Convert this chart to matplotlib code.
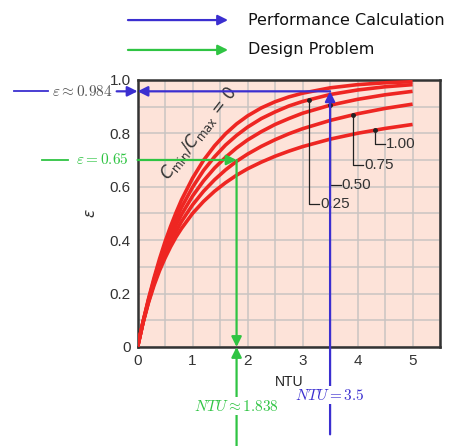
import numpy as np
import matplotlib
matplotlib.use('Agg')
import matplotlib.pyplot as plt

plt.rcParams.update({'font.family':['Liberation Sans','DejaVu Sans'],'font.size':11})
RED,BLUE,GREEN,BG='#ee2622','#3b2fd0','#2fc443','#fde3d9'

# effectiveness curves (Cmin/Cmax = 0, 0.25, 0.50, 0.75, 1.00)
NTU=[0,0.1,0.2,0.3,0.4,0.5,0.6,0.7,0.8,1.0,1.2,1.4,1.6,1.8,2.0,2.25,2.5,2.75,3.0,3.5,4.0,4.5,5.0]
EPS_000=[0,0.095,0.181,0.259,0.330,0.394,0.451,0.503,0.551,0.632,0.699,0.753,0.798,0.835,0.865,
         0.895,0.918,0.936,0.950,0.970,0.982,0.989,0.993]
EPS_025=[0,0.094,0.178,0.252,0.318,0.378,0.431,0.479,0.523,0.598,0.661,0.712,0.756,0.792,0.823,
         0.855,0.880,0.902,0.919,0.945,0.962,0.974,0.982]
EPS_050=[0,0.093,0.174,0.245,0.307,0.362,0.412,0.456,0.496,0.565,0.622,0.670,0.710,0.745,0.775,
         0.806,0.833,0.855,0.875,0.905,0.927,0.944,0.957]
EPS_075=[0,0.092,0.170,0.238,0.296,0.348,0.393,0.433,0.470,0.532,0.583,0.626,0.663,0.695,0.722,
         0.751,0.776,0.798,0.817,0.848,0.873,0.893,0.909]
EPS_100=[0,0.091,0.167,0.231,0.286,0.333,0.375,0.412,0.444,0.500,0.545,0.583,0.615,0.643,0.667,
         0.692,0.714,0.733,0.750,0.778,0.800,0.818,0.833]
CURVES=[EPS_000,EPS_025,EPS_050,EPS_075,EPS_100]

# leader labels for the curves
LEAD_TXT=['0.25','0.50','0.75','1.00']
LEAD_NTU=[3.11,3.5,3.91,4.31]
LEAD_Y=[0.537,0.605,0.680,0.759]

# worked examples
PERF_NTU,PERF_EPS=3.5,0.957
DES_NTU,DES_EPS=1.8,0.70

fig=plt.figure(figsize=(4.57,4.46),dpi=100)
ax=fig.add_axes([0.301,0.222,0.662,0.599])
ax.set_facecolor(BG)
ax.set_xlim(0,5.5); ax.set_ylim(0,1.0)
ax.set_xticks(np.arange(0,5.6,1)); ax.set_yticks(np.arange(0,1.01,0.2))
ax.set_xticklabels(['0','1','2','3','4','5']); ax.set_yticklabels(['0','0.2','0.4','0.6','0.8','1.0'])
ax.set_xticks(np.arange(0,5.6,0.5),minor=True); ax.set_yticks(np.arange(0,1.01,0.1),minor=True)
ax.grid(which='both',color='#c9c4c2',lw=1.1); ax.set_axisbelow(True)
ax.tick_params(which='both',length=0,pad=5,labelcolor='#333',labelsize=11)
for s in ax.spines.values(): s.set_color('#333'); s.set_linewidth(1.8)
ax.set_xlabel('NTU',fontsize=10,color='#222',labelpad=5)
ax.set_ylabel(r'$\varepsilon$',fontsize=11,color='#333',labelpad=8)

for e in CURVES:
    ax.plot(NTU,e,color=RED,lw=2.6,solid_capstyle='butt',solid_joinstyle='round',zorder=3)

ax.text(1.12,0.80,r'$C_{\mathrm{min}}/C_{\mathrm{max}}$ = 0',rotation=52,ha='center',va='center',
        fontsize=12,color='#333',family='DejaVu Sans',zorder=4)

for txt,xn,yl,e in zip(LEAD_TXT,LEAD_NTU,LEAD_Y,CURVES[1:]):
    yc=np.interp(xn,NTU,e)
    ax.plot([xn,xn,xn+0.19],[yc,yl,yl],color='#222',lw=0.9,zorder=4)
    ax.plot(xn,yc,'o',color='#222',ms=2.5,zorder=5)
    ax.text(xn+0.21,yl,txt,va='center',ha='left',fontsize=11,color='#333',zorder=5)

def arrow(x0,y0,x1,y1,c,ms=15):
    ax.annotate('',xy=(x1,y1),xytext=(x0,y0),annotation_clip=False,zorder=6,
                arrowprops=dict(arrowstyle='-|>',color=c,lw=1.6,mutation_scale=ms,shrinkA=0,shrinkB=0))

# performance calculation (blue)
arrow(PERF_NTU,-0.327,PERF_NTU,PERF_EPS,BLUE)
arrow(PERF_NTU,PERF_EPS,0,PERF_EPS,BLUE)
arrow(-0.38,PERF_EPS,0,PERF_EPS,BLUE)
ax.plot([-2.24,-1.62],[PERF_EPS,PERF_EPS],color=BLUE,lw=1.3,clip_on=False)
ax.text(-1.55,PERF_EPS,r'$\varepsilon \approx 0.984$',va='center',ha='left',fontsize=11,
        color='#555',math_fontfamily='cm')
ax.text(PERF_NTU,-0.18,r'$NTU = 3.5$',va='center',ha='center',fontsize=11,color=BLUE,
        math_fontfamily='cm',zorder=7,bbox=dict(fc='white',ec='none',pad=1))

# design problem (green)
ax.plot([-1.73,-1.26],[DES_EPS,DES_EPS],color=GREEN,lw=1.3,clip_on=False)
ax.text(-1.12,DES_EPS,r'$\varepsilon = 0.65$',va='center',ha='left',fontsize=11,color=GREEN,
        math_fontfamily='cm')
arrow(0,DES_EPS,DES_NTU,DES_EPS,GREEN)
arrow(DES_NTU,DES_EPS,DES_NTU,0,GREEN)
arrow(DES_NTU,-0.40,DES_NTU,0,GREEN)
ax.text(DES_NTU,-0.222,r'$NTU \approx 1.838$',va='center',ha='center',fontsize=11,color=GREEN,
        math_fontfamily='cm',zorder=7,bbox=dict(fc='white',ec='none',pad=1))

# key at the top
for yk,c,lbl in [(0.955,BLUE,'Performance Calculation'),(0.888,GREEN,'Design Problem')]:
    fig.add_artist(matplotlib.patches.FancyArrowPatch((0.280,yk),(0.499,yk),transform=fig.transFigure,
                   arrowstyle='-|>',color=c,lw=1.6,mutation_scale=15,shrinkA=0,shrinkB=0))
    fig.text(0.543,yk,lbl,va='center',ha='left',fontsize=11.5,color='#111',family='DejaVu Sans')

fig.savefig('out.png')
